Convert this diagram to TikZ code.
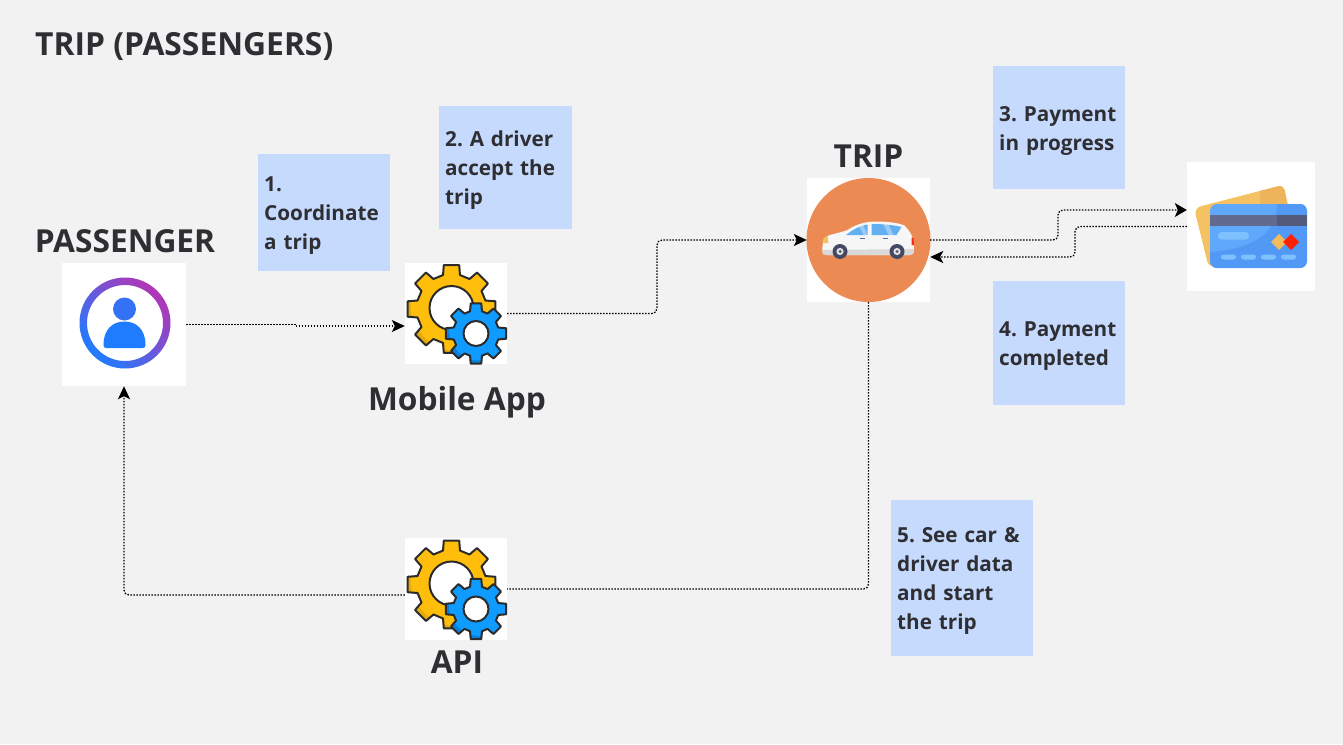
\documentclass[tikz,border=0pt]{standalone}
\usepackage{fontspec}
\setmainfont{Open Sans}
\usetikzlibrary{arrows.meta,calc}
\definecolor{pagebg}{HTML}{F2F2F2}
\definecolor{notebg}{HTML}{C5DAFD}
\definecolor{ink}{HTML}{2E2E33}
\definecolor{gearY}{HTML}{FFBE0B}
\definecolor{gearYd}{HTML}{E3A90D}
\definecolor{gearB}{HTML}{0F9BFF}
\definecolor{gearBd}{HTML}{0A7FD8}
\definecolor{gearK}{HTML}{2B2B2B}
\definecolor{tripO}{HTML}{EC8A54}
\definecolor{iconB}{HTML}{1F7CFF}
\definecolor{iconP}{HTML}{B235B5}
\definecolor{winB}{HTML}{63B0F0}
\definecolor{cardY}{HTML}{F4C163}
\definecolor{cardYd}{HTML}{EDB45C}
\definecolor{cardB}{HTML}{5FA8FB}
\definecolor{cardBd}{HTML}{5199F5}
\definecolor{cardBl}{HTML}{7FC0FF}
\definecolor{cardS}{HTML}{626A8F}
\def\biggearpath{(-14:35) \foreach \a in {0,45,...,315}{
   -- ({\a-14}:35) -- ({\a-10}:44.5) -- ({\a+10}:44.5) -- ({\a+14}:35)
  } -- cycle}
\def\smallgearpath{(-15:23) \foreach \a in {0,45,...,315}{
   -- ({\a-15}:23) -- ({\a-10}:30.5) -- ({\a+10}:30.5) -- ({\a+15}:23)
  } -- cycle}
\tikzset{
  note/.style={fill=notebg,draw=none,anchor=north west,inner xsep=6pt,inner ysep=0pt,align=left,
    text=ink,font=\fontsize{20.7}{29}\selectfont\bfseries,execute at begin node={\rule{0pt}{21.5pt}}},
  imgbox/.style={fill=white,draw=none,inner sep=0pt},
  biglabel/.style={text=ink,inner sep=0pt,font=\fontsize{31.7}{36}\selectfont\bfseries},
  flow/.style={draw=black,line width=1.3pt,dash pattern=on 1.5pt off 1.5pt,rounded corners=5pt},
  flowtip/.style={-{Stealth[length=13pt,width=12pt,inset=3pt]}},
  cardtip/.style={-{Stealth[length=12pt,width=14pt,inset=3pt]}},
  gearshape/.pic={
    \begin{scope}[shift={(-4.5,-4.5)}]
      \fill[gearYd] \biggearpath;
      \begin{scope}
        \clip \biggearpath;
        \fill[gearY] (6,-5) circle[radius=47];
      \end{scope}
      \draw[draw=gearK,line width=2pt,line join=round] \biggearpath;
      \draw[fill=white,draw=gearK,line width=2pt] (0,-1) circle[radius=22];
    \end{scope}
    \begin{scope}[shift={(20,20)}]
      \fill[gearBd] \smallgearpath;
      \begin{scope}
        \clip \smallgearpath;
        \fill[gearB] (4,-4) circle[radius=31];
      \end{scope}
      \draw[draw=gearK,line width=2pt,line join=round] \smallgearpath;
      \draw[fill=white,draw=gearK,line width=2pt] (0,0) circle[radius=12.5];
    \end{scope}
  }
}
\begin{document}
\frenchspacing
\begin{tikzpicture}[x=1pt,y=-1pt]
\useasboundingbox (0,0) rectangle (1343,744);
\fill[pagebg] (0,0) rectangle (1343,744);

% title and notes
\node[anchor=west,inner sep=0pt,text=ink,font=\fontsize{31.8}{36}\selectfont\bfseries] (title) at (35,47) {TRIP (PASSENGERS)};
\node[note,minimum width=132pt,minimum height=117pt,text width=120pt] (n1) at (258,154) {1.\\Coordinate\\a trip};
\node[note,minimum width=133pt,minimum height=123pt,text width=121pt] (n2) at (439,106) {2. A driver\\accept the\\trip};
\node[note,minimum width=132pt,minimum height=123pt,text width=120pt] (n3) at (993,66) {3. Payment\\in progress};
\node[note,minimum width=132pt,minimum height=124pt,text width=120pt] (n4) at (993,281) {4. Payment\\completed};
\node[note,minimum width=142pt,minimum height=156pt,text width=130pt] (n5) at (891,500) {5. See car \&\\driver data\\and start\\the trip};

% image boxes
\node[imgbox,minimum width=124pt,minimum height=123pt] (pass) at (124,324.5) {};
\node[imgbox,minimum width=102pt,minimum height=101pt] (app) at (456,313.5) {};
\node[imgbox,minimum width=102pt,minimum height=102pt] (api) at (456,589) {};
\node[imgbox,minimum width=123pt,minimum height=124pt] (trip) at (868.5,240) {};
\node[imgbox,minimum width=128pt,minimum height=129pt] (card) at (1251,226.5) {};

% labels
\node[biglabel,anchor=base] (lpass) at (125,252) {PASSENGER};
\node[biglabel,anchor=base] (lapp) at (457,410) {Mobile App};
\node[biglabel,anchor=base] (lapi) at (457,673) {API};
\node[biglabel,anchor=base] (ltrip) at (868.5,167) {TRIP};

% passenger icon
\path[left color=iconB,right color=iconP,shading angle=135,even odd rule]
  (125,323) circle[radius=45.5] (125,323) circle[radius=38];
\fill[iconB!85!iconP] (124.5,309) circle[radius=11.5];
\fill[iconB] (103.5,345) .. controls (103.5,329) and (113,321.5) .. (124.5,321.5)
  .. controls (136,321.5) and (145.5,329) .. (145.5,345)
  .. controls (145.5,347) and (144.5,348) .. (143,348) -- (106,348)
  .. controls (104.5,348) and (103.5,347) .. (103.5,345) -- cycle;

% gears
\pic at (app.center) {gearshape};
\pic at (api.center) {gearshape};

% trip circle and car
\fill[tripO] (trip.center) circle[radius=62];
\begin{scope}[shift={(trip.center)}]
  \fill[white!93!gray] (-46,12) .. controls (-46.5,4) and (-45,-3) .. (-40,-4.5)
    .. controls (-32,-7) and (-26,-8) .. (-21,-10)
    .. controls (-12,-16) and (-3,-18.5) .. (8,-18.5)
    .. controls (20,-18.5) and (30,-17) .. (36,-14.5)
    .. controls (41,-9) and (44,-5) .. (44.5,0) -- (45.5,9)
    .. controls (46,13) and (44,15) .. (41,15) -- (-42,15)
    .. controls (-45,15) and (-46,14) .. (-46,12) -- cycle;
  \fill[black!15] (-46,10) -- (45.5,9) .. controls (46,13) and (44,15) .. (41,15) -- (-42,15) .. controls (-45,15) and (-46,14) .. (-46,10) -- cycle;
  \fill[winB] (-22.5,-5) .. controls (-15,-11) and (-9,-14) .. (-1,-15.5) -- (-1,-5) -- cycle;
  \fill[winB] (3,-16) .. controls (15,-16) and (25,-15) .. (33,-13) -- (28,-5) -- (3,-5) -- cycle;
  \fill[white,opacity=.35] (-9,-13.5) -- (-5,-14.5) -- (-1,-5) -- (-5,-5) -- cycle;
  \fill[white,opacity=.35] (15,-16) -- (20,-15.5) -- (25,-5) -- (20,-5) -- cycle;
  \fill[cardY] (-46,3) .. controls (-46,-1) and (-44,-3.5) .. (-41,-4) -- (-40,3) -- cycle;
  \fill[red!70!tripO] (43,-2.5) -- (45,-2.5) -- (45.5,5) -- (43,5) -- cycle;
  \fill[cardS] (-8.5,-2) rectangle (-3.5,-1);
  \fill[cardS] (14.5,-2) rectangle (19.5,-1);
  \foreach \wx in {-28.5,28.5}{
    \fill[cardS!70!black] (\wx,11.5) circle[radius=7.5];
    \fill[black!12] (\wx,11.5) circle[radius=3.6];
    \fill[cardS!70!black] (\wx,11.5) circle[radius=1.5];
  }
\end{scope}

% credit cards
\begin{scope}[shift={(card.center)}]
  \fill[cardY,rounded corners=7pt] (-57,-18.5) -- (32,-41.5) -- (40,-10) -- (-42,42) -- cycle;
  \fill[cardYd] (9,-35.5) -- (28,-40.5) .. controls (31,-41.3) and (33,-38) .. (34,-36) -- (36,-22) -- (9,-22) -- cycle;
  \begin{scope}
    \clip[rounded corners=7pt] (-41,-22.5) rectangle (56,41.5);
    \fill[cardB] (-41,-22.5) rectangle (56,41.5);
    \fill[cardBd] (26,-22.5) .. controls (26,8) and (0,23) .. (-41,25.5) -- (-41,41.5) -- (56,41.5) -- (56,-22.5) -- cycle;
    \fill[cardS] (-41,-11.5) rectangle (56,-0.5);
    \fill[cardS!85!black] (26,-11.5) rectangle (56,-0.5);
  \end{scope}
  \fill[cardBl,rounded corners=3.5pt] (-33,5.5) rectangle (-2,13);
  \fill[cardBl,rounded corners=2.5pt] (-30,28) rectangle (-15,33);
  \fill[cardBl,rounded corners=2.5pt] (-10,28) rectangle (5,33);
  \fill[cardBl,rounded corners=2.5pt] (10,28) rectangle (25,33);
  \fill[cardBl,rounded corners=2.5pt] (30,28) rectangle (45,33);
  \fill[cardY!90!orange] (28,7.5) -- (36,15.5) -- (28,23.5) -- (20,15.5) -- cycle;
  \fill[red!75!orange] (40,7.5) -- (48,15.5) -- (40,23.5) -- (32,15.5) -- cycle;
\end{scope}

% connectors
\draw[flow,sharp corners,flowtip] (pass.east) -- ++(110,0) -- ++(0,1.5) -- ([yshift=-12.5pt]app.west);
\draw[flow,flowtip] (app.east) -| (657,240) -- (trip.west);
\draw[flow,cardtip] (trip.east) -| (1058,210) -- ([yshift=16.5pt]card.west);
\draw[flow,flowtip] (card.west) -| (1075,257) -- ([yshift=-17pt]trip.east);
\draw[flow] (trip.south) |- (api.east);
\draw[flow,flowtip] ([yshift=-6pt]api.west) -| (pass.south);
\end{tikzpicture}
\end{document}
